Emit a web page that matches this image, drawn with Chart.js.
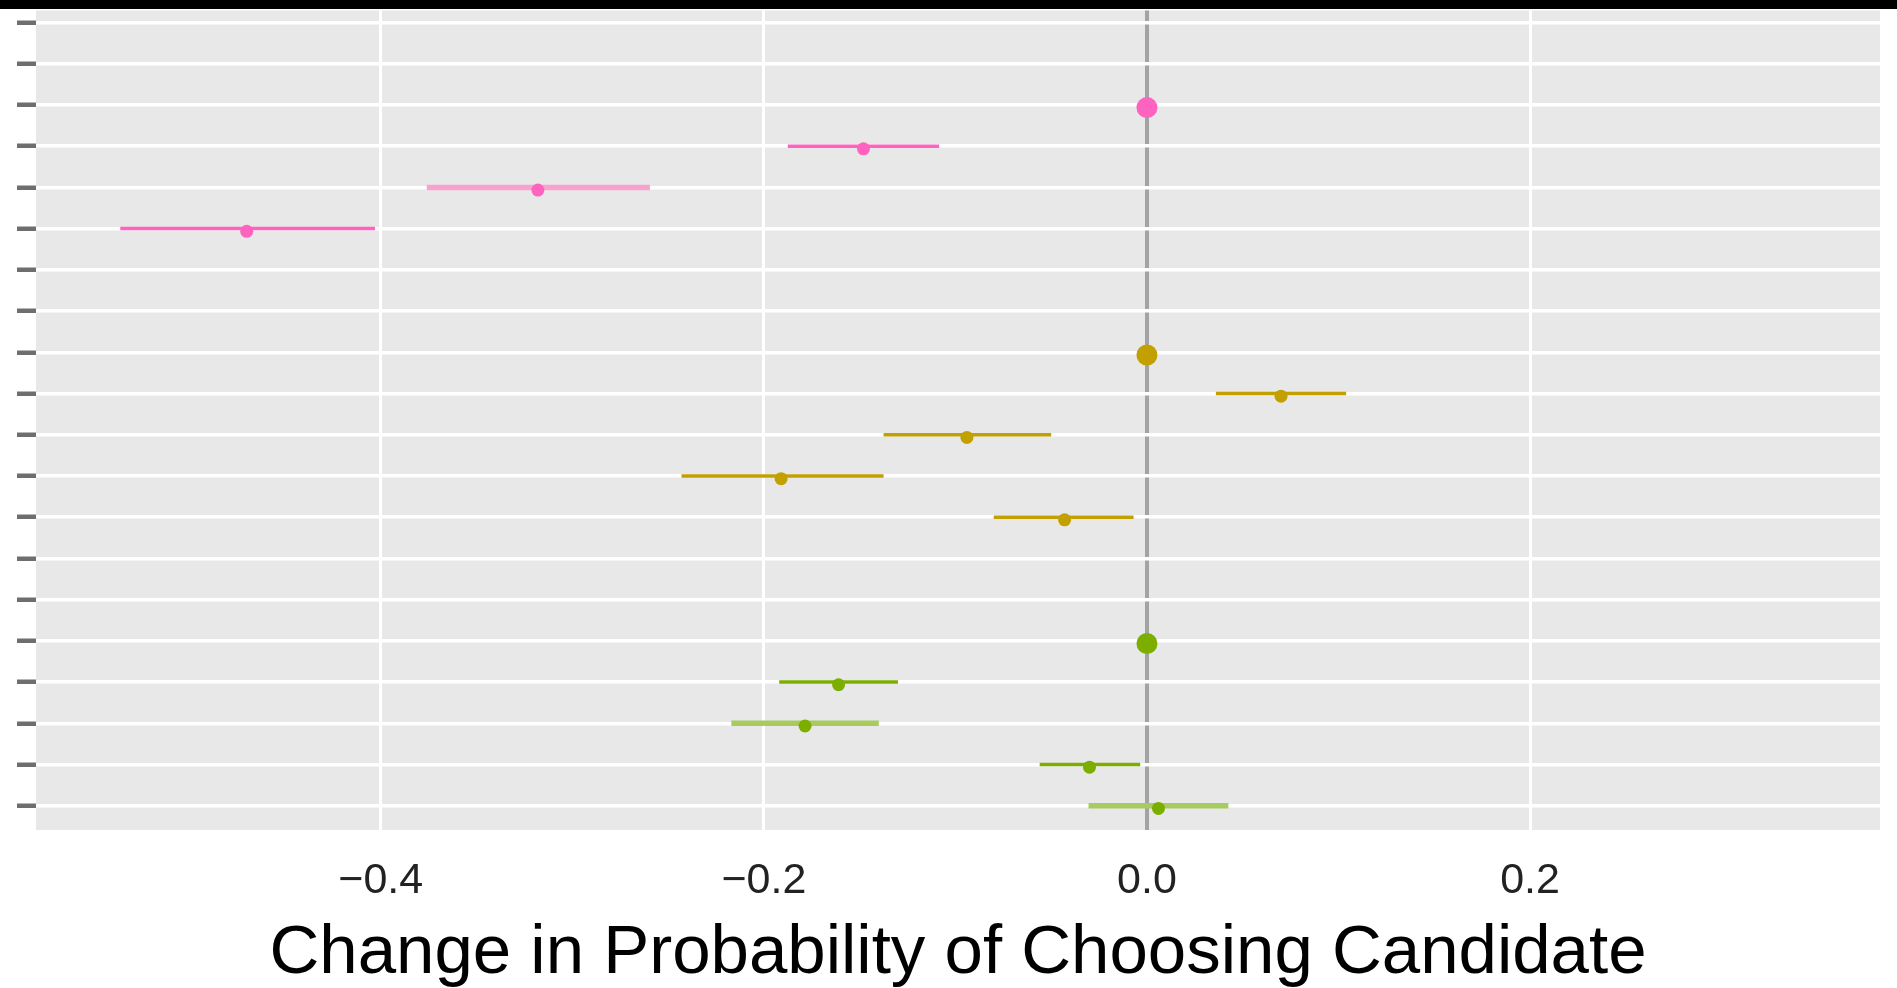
<!DOCTYPE html>
<html>
<head>
<meta charset="utf-8">
<script src="https://cdn.jsdelivr.net/npm/chart.js@4.4.1/dist/chart.umd.min.js"></script>
<style>
  html, body { margin: 0; padding: 0; background: #ffffff; }
  #wrap { width: 1897px; height: 988px; }
</style>
</head>
<body>
<div id="wrap"><canvas id="myChart" width="1897" height="988"></canvas></div>
<script>
// rows are counted from the top of the panel (1 = first row)
const pinkRows = [4, 5, 6];
const pinkEst  = [-0.148, -0.318, -0.470];
const pinkLow  = [-0.1875, -0.376, -0.536];
const pinkHigh = [-0.1085, -0.2595, -0.403];

const goldRows = [10, 11, 12, 13];
const goldEst  = [0.070, -0.094, -0.191, -0.043];
const goldLow  = [0.036, -0.1375, -0.243, -0.080];
const goldHigh = [0.104, -0.050, -0.1375, -0.007];

const greenRows = [17, 18, 19, 20];
const greenEst  = [-0.161, -0.1785, -0.030, 0.006];
const greenLow  = [-0.192, -0.217, -0.056, -0.0305];
const greenHigh = [-0.130, -0.140, -0.0035, 0.0425];

// reference levels, sitting on zero
const refRows = [3, 9, 16];
const refEst  = [0, 0, 0];

// intervals drawn wider and paler
const paleRows = [5, 18, 20];

const rowTicks = [1, 2, 3, 4, 5, 6, 7, 8, 9, 10, 11, 12, 13, 14, 15, 16, 17, 18, 19, 20];
const xTicks = [-0.4, -0.2, 0, 0.2];
const xTickLabels = ['\u22120.4', '\u22120.2', '0.0', '0.2'];

const PINK = '#ff63c0', PINK_PALE = '#f9a2cd';
const GOLD = '#c2a000';
const GREEN = '#7cae00', GREEN_PALE = '#a7cb5f';
const DODGE = 0.065;
const FONT = "'Liberation Sans', Arial, Helvetica, sans-serif";

// interval segments, broken apart with empty points
function segments(rows, lo, hi, pale) {
  const out = [];
  rows.forEach((r, i) => {
    if (paleRows.includes(r) !== pale) return;
    out.push({ x: lo[i], y: r }, { x: hi[i], y: r }, { x: null, y: null });
  });
  return out;
}

function ciSet(rows, lo, hi, pale, color) {
  return {
    type: 'line',
    data: segments(rows, lo, hi, pale),
    borderColor: color,
    borderWidth: pale ? 5.5 : 3.5,
    borderCapStyle: 'butt',
    pointRadius: 0,
    spanGaps: false,
    tension: 0,
    order: 2
  };
}

function pointSet(rows, est, color, radius) {
  return {
    type: 'scatter',
    data: rows.map((r, i) => ({ x: est[i], y: r + DODGE })),
    backgroundColor: color,
    borderColor: color,
    pointRadius: radius,
    pointBorderWidth: 0,
    order: 0
  };
}

const panelPlugin = {
  id: 'panel',
  beforeDraw(chart) {
    const { ctx, chartArea: a } = chart;
    ctx.save();
    ctx.fillStyle = '#e8e8e8';
    ctx.fillRect(a.left, a.top, a.right - a.left, a.bottom - a.top);
    ctx.restore();
  },
  afterDraw(chart) {
    const { ctx } = chart;
    ctx.save();
    ctx.fillStyle = '#000000';
    ctx.fillRect(0, 0, chart.width, 9);
    ctx.restore();
  }
};

const ctx = document.getElementById('myChart').getContext('2d');
new Chart(ctx, {
  type: 'scatter',
  data: {
    datasets: [
      ciSet(pinkRows, pinkLow, pinkHigh, false, PINK),
      ciSet(pinkRows, pinkLow, pinkHigh, true, PINK_PALE),
      ciSet(goldRows, goldLow, goldHigh, false, GOLD),
      ciSet(greenRows, greenLow, greenHigh, false, GREEN),
      ciSet(greenRows, greenLow, greenHigh, true, GREEN_PALE),
      pointSet(pinkRows, pinkEst, PINK, 6.5),
      pointSet(goldRows, goldEst, GOLD, 6.5),
      pointSet(greenRows, greenEst, GREEN, 6.5),
      {
        type: 'scatter',
        data: refRows.map((r, i) => ({ x: refEst[i], y: r + DODGE })),
        backgroundColor: [PINK, GOLD, GREEN],
        borderColor: [PINK, GOLD, GREEN],
        pointRadius: 10.5,
        pointBorderWidth: 0,
        order: 0
      }
    ]
  },
  options: {
    responsive: false,
    devicePixelRatio: 1,
    animation: false,
    events: [],
    layout: { padding: { top: 9, right: 17, bottom: 0, left: 0 } },
    plugins: {
      legend: { display: false },
      tooltip: { enabled: false }
    },
    scales: {
      x: {
        type: 'linear',
        min: -0.58,
        max: 0.3827,
        afterBuildTicks: (s) => { s.ticks = xTicks.map(v => ({ value: v })); },
        afterFit: (s) => { s.height = 158; },
        ticks: {
          callback: (v) => xTickLabels[xTicks.indexOf(v)],
          color: '#222222',
          font: { family: FONT, size: 43 },
          padding: 25,
          maxRotation: 0,
          autoSkip: false
        },
        grid: {
          color: (c) => (c.tick && c.tick.value === 0 ? '#a3a3a3' : '#ffffff'),
          lineWidth: (c) => (c.tick && c.tick.value === 0 ? 4 : 3),
          drawTicks: false
        },
        border: { display: false },
        title: {
          display: true,
          text: 'Change in Probability of Choosing Candidate',
          color: '#000000',
          font: { family: FONT, size: 69, lineHeight: 1 },
          padding: { top: 0, bottom: 0 }
        }
      },
      y: {
        type: 'linear',
        reverse: true,
        min: 0.709,
        max: 20.588,
        afterBuildTicks: (s) => { s.ticks = rowTicks.map(v => ({ value: v })); },
        afterFit: (s) => { s.width = 36; },
        ticks: { display: false },
        grid: {
          color: '#ffffff',
          lineWidth: 3.5,
          tickColor: '#6e6e6e',
          tickWidth: 4.5,
          tickLength: 19,
          z: -1
        },
        border: { display: false }
      }
    }
  },
  plugins: [panelPlugin]
});
</script>
</body>
</html>
